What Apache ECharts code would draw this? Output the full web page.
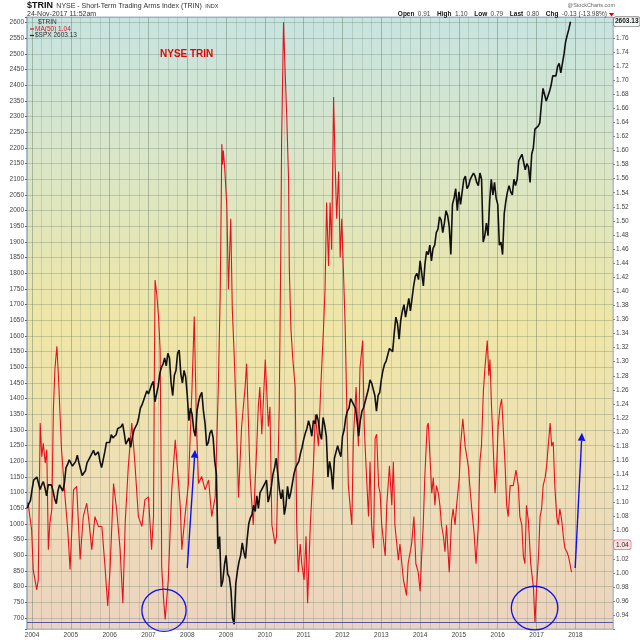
<!DOCTYPE html>
<html><head><meta charset="utf-8">
<script src="https://cdn.jsdelivr.net/npm/echarts@6/dist/echarts.min.js"></script>
<style>html,body{margin:0;padding:0;background:#fff}#c{width:640px;height:640px}</style>
</head><body><div id="c"></div>
<script>
// ---------- DATA ----------
// $SPX, semi-monthly samples starting mid-Nov 2003
const spxStart = 2003.875;
const spxStep = 1 / 24;
const spxValues = [
1050,1065,1075,
1110,1140,1135,1150,1150,1110,1125,1135,1115,1090,1125,1130,1125,1105,1080,1065,1105,1125,1130,1105,1130,1180,1190,1205,
1200,1185,1180,1200,1220,1195,1175,1155,1160,1170,1195,1205,1200,1225,1235,1220,1220,1230,1200,1180,1205,1230,1260,1265,
1260,1285,1275,1280,1285,1305,1300,1310,1320,1290,1255,1250,1275,1245,1275,1300,1300,1320,1340,1370,1380,1395,1400,1425,
1415,1430,1445,1455,1390,1385,1440,1480,1500,1510,1530,1505,1545,1530,1450,1410,1475,1490,1545,1555,1480,1450,1490,1470,
1410,1330,1370,1350,1300,1280,1360,1390,1410,1420,1360,1320,1250,1260,1290,1300,1275,1200,1160,920,960,800,820,870,
900,840,830,790,700,680,810,850,880,900,940,910,890,950,1000,1020,1030,1060,1040,1090,1050,1100,1110,1115,
1130,1140,1070,1090,1120,1160,1180,1210,1160,1110,1080,1110,1030,1060,1120,1080,1100,1130,1160,1180,1190,1200,1225,1245,
1270,1290,1305,1330,1310,1280,1330,1320,1350,1330,1290,1270,1340,1315,1280,1150,1200,1170,1110,1210,1230,1250,1230,1215,
1280,1300,1340,1360,1370,1400,1400,1380,1370,1330,1280,1330,1360,1370,1390,1410,1430,1460,1450,1430,1410,1360,1410,1420,
1460,1490,1510,1520,1540,1560,1560,1550,1610,1660,1640,1590,1650,1680,1700,1660,1660,1720,1680,1720,1760,1790,1800,1780,
1840,1840,1760,1830,1870,1860,1890,1840,1880,1890,1930,1940,1980,1970,1930,1960,2000,1985,1950,1860,2020,2040,2070,2000,
2060,2020,2020,2100,2110,2070,2080,2100,2110,2120,2110,2090,2080,2120,2100,1900,1920,1960,1920,2030,2100,2050,2090,2040,
2020,1890,1900,1860,1990,2030,2060,2080,2060,2050,2100,2080,2100,2160,2170,2180,2180,2130,2150,2140,2090,2180,2200,2260,
2260,2270,2280,2340,2390,2370,2350,2350,2380,2400,2430,2430,2430,2460,2470,2440,2470,2500,2540,2560,2580,2603
];

// TRIN MA(50): dates (fractional years) and values
const trinDates = [
2003.88,2003.91,2003.99,2004.03,2004.12,2004.16,2004.21,2004.25,2004.29,2004.34,2004.38,2004.42,2004.46,2004.51,2004.55,2004.59,2004.64,2004.68,2004.76,2004.85,2004.92,2004.98,
2005.07,2005.15,2005.24,2005.32,2005.41,2005.47,2005.54,2005.62,2005.71,2005.80,2005.88,2005.95,
2006.01,2006.10,2006.18,2006.27,2006.34,2006.40,2006.48,2006.57,2006.65,2006.74,2006.83,2006.91,
2007.00,2007.08,2007.13,2007.15,2007.17,2007.21,2007.26,2007.30,2007.33,2007.34,2007.39,2007.43,2007.47,2007.51,2007.56,2007.60,2007.69,2007.75,2007.82,2007.86,2007.94,
2008.03,2008.12,2008.18,2008.24,2008.29,2008.37,2008.46,2008.55,2008.63,2008.72,2008.80,2008.85,2008.89,2008.91,2008.93,2008.97,
2009.02,2009.06,2009.12,2009.16,2009.21,2009.27,2009.32,2009.40,2009.49,2009.53,2009.62,2009.70,2009.79,2009.83,2009.87,2009.92,
2010.01,2010.09,2010.13,2010.18,2010.26,2010.30,2010.37,2010.41,2010.43,2010.48,2010.52,2010.56,2010.61,2010.63,2010.67,2010.72,2010.78,2010.82,2010.86,2010.91,2010.95,
2011.01,2011.06,2011.10,2011.17,2011.25,2011.30,2011.38,2011.44,2011.51,2011.55,2011.59,2011.64,2011.68,2011.72,2011.77,2011.81,2011.85,2011.90,2011.94,2011.98,
2012.02,2012.07,2012.11,2012.15,2012.24,2012.28,2012.35,2012.41,2012.45,2012.52,2012.56,2012.63,2012.67,2012.71,2012.75,2012.80,2012.84,2012.88,2012.93,2012.97,
2013.01,2013.10,2013.14,2013.21,2013.27,2013.31,2013.35,2013.44,2013.48,2013.57,2013.65,2013.69,2013.78,2013.84,2013.89,2013.95,
2014.00,2014.04,2014.08,2014.12,2014.18,2014.21,2014.25,2014.30,2014.34,2014.38,2014.42,2014.47,2014.51,2014.55,2014.60,2014.64,2014.68,2014.75,2014.81,2014.85,2014.90,2014.94,
2015.01,2015.04,2015.10,2015.16,2015.24,2015.28,2015.33,2015.39,2015.44,2015.50,2015.54,2015.58,2015.63,2015.67,2015.73,2015.77,2015.80,2015.84,2015.89,2015.93,2015.97,
2016.01,2016.06,2016.10,2016.14,2016.19,2016.23,2016.27,2016.32,2016.40,2016.47,2016.53,2016.57,2016.62,2016.66,2016.70,2016.74,2016.79,2016.85,2016.92,2016.96,
2017.00,2017.05,2017.09,2017.13,2017.17,2017.22,2017.26,2017.30,2017.35,2017.39,2017.43,2017.47,2017.52,2017.56,2017.60,2017.65,2017.69,2017.73,2017.78,2017.82,2017.86,2017.90
];
const trinMA = [
1.100,1.094,1.061,1.005,0.976,0.990,1.213,1.165,1.184,1.156,1.175,1.033,1.071,1.090,1.232,1.290,1.322,1.279,1.175,1.108,1.061,1.005,
1.118,1.123,1.019,1.080,1.099,1.071,1.033,1.080,1.066,1.066,1.009,0.953,
1.005,1.127,1.090,1.033,0.957,1.071,1.151,1.213,1.156,1.080,1.066,1.104,
1.108,1.033,1.080,1.270,1.416,1.398,1.364,1.317,1.127,1.009,0.962,0.934,0.962,0.990,1.061,1.118,1.189,1.146,1.094,1.033,1.080,
1.127,1.260,1.364,1.203,1.127,1.137,1.118,1.132,1.080,1.108,1.264,1.400,1.609,1.580,1.600,1.570,
1.520,1.403,1.503,1.375,1.308,1.208,1.107,1.208,1.264,1.297,1.135,1.068,1.180,1.236,1.264,1.197,
1.303,1.208,1.236,1.068,1.041,1.052,1.236,1.459,1.609,1.782,1.715,1.654,1.559,1.431,1.347,1.303,1.264,1.068,1.001,1.041,1.013,
0.990,1.052,0.957,1.068,1.152,1.225,1.180,1.264,1.347,1.403,1.526,1.436,1.526,1.459,1.676,1.581,1.503,1.570,1.448,1.503,
1.436,1.347,1.236,1.124,1.068,1.191,1.264,1.180,1.291,1.330,1.208,1.124,1.080,1.158,1.068,1.035,1.191,1.197,1.124,1.113,
1.068,1.024,1.096,1.152,1.096,1.158,1.068,1.018,1.041,0.990,0.968,1.013,1.041,1.080,1.013,1.001,
0.974,1.024,1.068,1.135,1.208,1.213,1.169,1.113,1.135,1.096,1.124,1.113,1.096,1.068,1.052,1.030,1.068,1.001,1.074,1.091,1.068,1.096,
1.135,1.180,1.219,1.180,1.152,1.124,1.091,1.057,1.013,1.068,1.158,1.180,1.258,1.291,1.330,1.280,1.303,1.236,1.169,1.113,1.146,
1.208,1.236,1.247,1.208,1.152,1.096,1.080,1.124,1.124,1.146,1.124,1.080,1.068,1.024,1.013,1.096,1.074,1.013,0.979,0.929,
0.979,1.024,1.080,1.091,1.124,1.135,1.152,1.180,1.213,1.180,1.186,1.124,1.080,1.068,1.091,1.074,1.052,1.035,1.030,1.024,1.013,1.001
];

// annotations (data coordinates: [year, TRIN MA value])
const baseLine = 0.930;
const circleMarks = [[2007.40, 0.947, 0.57, 0.030], [2016.95, 0.950, 0.60, 0.031]];
const arrowMarks = [[[2008.00, 1.007], [2008.20, 1.175]], [[2017.995, 1.007], [2018.17, 1.199]]];
const lastSpx = 2603.13, lastMA = 1.04;

// ---------- CHART ----------
const FONT = 'Liberation Sans, Arial, sans-serif';
const chart = echarts.init(document.getElementById('c'));
const gridC = 'rgba(105,125,105,0.32)';
const isMult = (v, s) => Math.abs(v / s - Math.round(v / s)) < 1e-6;

chart.setOption({
  animation: false,
  textStyle: { fontFamily: FONT },
  grid: {
    left: 27, right: 27, top: 17, bottom: 11, show: true,
    borderColor: '#a9b7c6', borderWidth: 1,
    backgroundColor: new echarts.graphic.LinearGradient(0, 0, 0, 1, [
      { offset: 0, color: '#c6e4e1' },
      { offset: 0.25, color: '#dbe6c6' },
      { offset: 0.5, color: '#efe6a6' },
      { offset: 0.75, color: '#eedfb6' },
      { offset: 1, color: '#ecd3bf' }
    ])
  },
  xAxis: {
    type: 'value', min: 2003.87, max: 2018.97, splitNumber: 15,
    axisLine: { show: false },
    axisTick: { show: false },
    axisLabel: {
      fontSize: 6.5, color: '#444', margin: 3, fontFamily: FONT,
      formatter: v => isMult(v, 1) ? String(Math.round(v)) : ''
    },
    splitLine: { show: true, lineStyle: { color: 'rgba(105,125,105,0.45)', width: 1 } },
    minorTick: { show: false, splitNumber: 4 },
    minorSplitLine: { show: true, lineStyle: { color: 'rgba(105,125,105,0.22)', width: 1 } }
  },
  yAxis: [
    {
      type: 'value', position: 'left', min: 665, max: 2618, splitNumber: 39,
      axisLine: { show: true, lineStyle: { color: '#9fb6d0', width: 1.5 } },
      axisTick: { show: true, length: 2, lineStyle: { color: '#666' } },
      axisLabel: {
        fontSize: 6.5, color: '#444', margin: 3, fontFamily: FONT,
        formatter: v => isMult(v, 50) ? String(Math.round(v)) : ''
      },
      splitLine: { show: true, lineStyle: { color: gridC, width: 1 } }
    },
    {
      type: 'value', position: 'right', min: 0.9203, max: 1.7896, splitNumber: 43,
      axisLine: { show: true, lineStyle: { color: '#b8c2cc', type: 'dotted' } },
      axisTick: { show: true, length: 2, lineStyle: { color: '#888' } },
      axisLabel: {
        fontSize: 6.5, color: '#444', margin: 3, fontFamily: FONT,
        formatter: v => isMult(v, 0.02) ? v.toFixed(2) : ''
      },
      splitLine: { show: false }
    }
  ],
  series: [
    {
      name: 'MA(50)', type: 'line', yAxisIndex: 1, showSymbol: false, z: 2,
      data: trinDates.map((t, i) => [t, trinMA[i]]),
      lineStyle: { color: '#e8101a', width: 1.1 },
      markLine: {
        silent: true, symbol: ['none', 'none'], label: { show: false },
        lineStyle: { color: '#5656a6', width: 1, type: 'solid' },
        data: [{ yAxis: baseLine }]
      }
    },
    {
      name: '$SPX', type: 'line', yAxisIndex: 0, showSymbol: false, z: 3,
      data: spxValues.map((v, i) => [spxStart + i * spxStep, v]),
      lineStyle: { color: '#111', width: 1.6 }
    }
  ]
});

// ---------- annotations & texts ----------
const P = (t, v, yi) => chart.convertToPixel({ xAxisIndex: 0, yAxisIndex: yi }, [t, v]);
const g = [];
const blue = '#1010ee';
circleMarks.forEach(([t, v, rt, rv]) => {
  const c = P(t, v, 1), e = P(t + rt, v + rv, 1);
  g.push({ type: 'ellipse', shape: { cx: c[0], cy: c[1], rx: Math.abs(e[0] - c[0]), ry: Math.abs(e[1] - c[1]) },
    style: { fill: 'none', stroke: blue, lineWidth: 1.3 }, z: 20 });
});
arrowMarks.forEach(([a, b]) => {
  const p0 = P(a[0], a[1], 1), p1 = P(b[0], b[1], 1);
  const dx = p1[0] - p0[0], dy = p1[1] - p0[1], L = Math.hypot(dx, dy);
  const ux = dx / L, uy = dy / L, hl = 8, hw = 3.8;
  const bx = p1[0] - ux * hl, by = p1[1] - uy * hl;
  g.push({ type: 'line', shape: { x1: p0[0], y1: p0[1], x2: bx, y2: by }, style: { stroke: blue, lineWidth: 1.4 }, z: 20 });
  g.push({ type: 'polygon', shape: { points: [[p1[0], p1[1]], [bx - uy * hw, by + ux * hw], [bx + uy * hw, by - ux * hw]] },
    style: { fill: blue }, z: 20 });
});
// value tags on the right axis
const ySpx = P(2018, lastSpx, 0)[1];
const yMa = P(2018, lastMA, 1)[1];
g.push({ type: 'text', x: 614, y: ySpx, z: 30, style: { text: lastSpx.toFixed(2), font: 'bold 6.5px ' + FONT, fill: '#111',
  verticalAlign: 'middle', backgroundColor: '#f4f8f8', borderColor: '#888', borderWidth: 0.8, borderRadius: 2, padding: [1, 1] } });
g.push({ type: 'text', x: 614, y: yMa, z: 30, style: { text: lastMA.toFixed(2), font: '6.5px ' + FONT, fill: '#222',
  verticalAlign: 'middle', backgroundColor: '#fbe3e3', borderColor: '#e07878', borderWidth: 0.8, borderRadius: 2, padding: [1, 2] } });
// header
g.push({ type: 'text', x: 27, y: 6, style: { text: '{b|$TRIN} {n|NYSE - Short-Term Trading Arms Index (TRIN)} {s|INDX}', verticalAlign: 'middle',
  rich: { b: { font: 'bold 9px ' + FONT, fill: '#111' }, n: { font: '7px ' + FONT, fill: '#333' }, s: { font: '5.5px ' + FONT, fill: '#333' } } } });
g.push({ type: 'text', x: 27, y: 14.5, style: { text: '24-Nov-2017 11:52am', font: '7px ' + FONT, fill: '#333', verticalAlign: 'middle' } });
g.push({ type: 'text', x: 615, y: 5.5, style: { text: '@StockCharts.com', font: '5.5px ' + FONT, fill: '#666', align: 'right', verticalAlign: 'middle' } });
g.push({ type: 'text', x: 607, y: 14.5, style: {
  text: '{b|Open} {n|0.91}  {b|High} {n|1.10}  {b|Low} {n|0.79}  {b|Last} {n|0.80}  {b|Chg} {n|-0.13 (-13.98%)}',
  align: 'right', verticalAlign: 'middle',
  rich: { b: { font: 'bold 6.5px ' + FONT, fill: '#111' }, n: { font: '6.5px ' + FONT, fill: '#444' } } } });
g.push({ type: 'polygon', shape: { points: [[609, 13], [614, 13], [611.5, 16.5]] }, style: { fill: '#d00' } });
// in-plot legend
g.push({ type: 'text', x: 38, y: 22.5, z: 25, style: { text: '$TRIN', font: '6.5px ' + FONT, fill: '#333', verticalAlign: 'middle' } });
g.push({ type: 'line', shape: { x1: 30, y1: 29, x2: 34, y2: 29 }, style: { stroke: '#e8101a', lineWidth: 1.2 }, z: 25 });
g.push({ type: 'text', x: 35, y: 29, z: 25, style: { text: 'MA(50) 1.04', font: '6.5px ' + FONT, fill: '#e8101a', verticalAlign: 'middle' } });
g.push({ type: 'line', shape: { x1: 30, y1: 35.5, x2: 34, y2: 35.5 }, style: { stroke: '#222', lineWidth: 1.2 }, z: 25 });
g.push({ type: 'text', x: 35, y: 35.5, z: 25, style: { text: '$SPX 2603.13', font: '6.5px ' + FONT, fill: '#333', verticalAlign: 'middle' } });
g.push({ type: 'text', x: 160, y: 54, z: 25, style: { text: 'NYSE TRIN', font: 'bold 10px ' + FONT, fill: '#ee0000', verticalAlign: 'middle' } });

chart.setOption({ graphic: { elements: g } });
</script>
</body></html>
